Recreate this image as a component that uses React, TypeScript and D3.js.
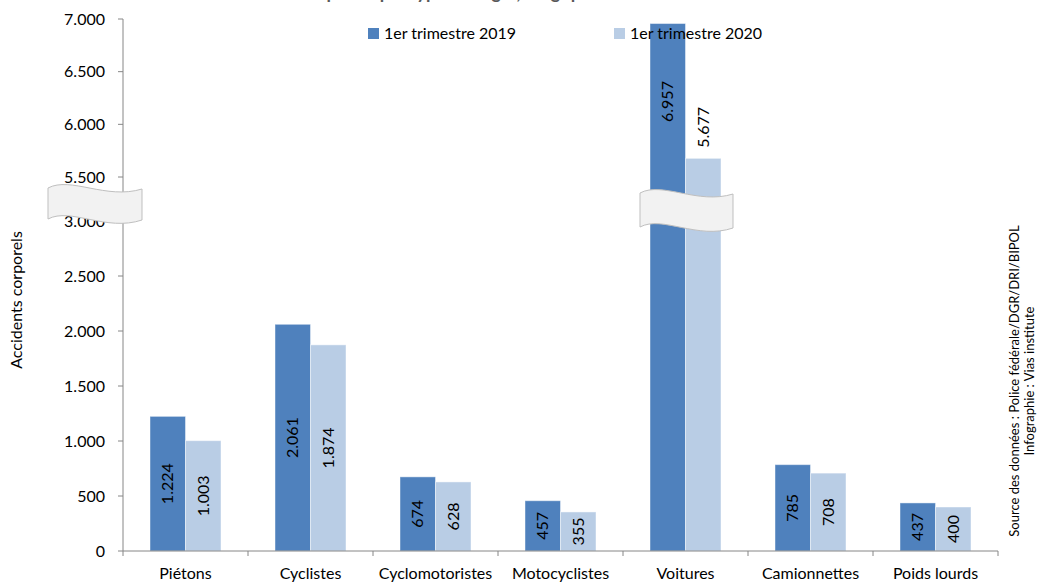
import React from "react";
import * as d3 from "d3";

const categories = ["Piétons", "Cyclistes", "Cyclomotoristes", "Motocyclistes", "Voitures", "Camionnettes", "Poids lourds"];
const series2019 = [1224, 2061, 674, 457, 6957, 785, 437];
const series2020 = [1003, 1874, 628, 355, 5677, 708, 400];
const seriesNames = ["1er trimestre 2019", "1er trimestre 2020"];
const lowerTicks = [0, 500, 1000, 1500, 2000, 2500, 3000];
const upperTicks = [5500, 6000, 6500, 7000];
const axisTitle = "Accidents corporels";
const chartTitle = "Accidents corporels par type d'usager, Belgique";
const sourceLines = ["Source des données : Police fédérale/DGR/DRI/BIPOL", "Infographie : Vias institute"];

const W = 1037;
const H = 583;
const FONT = "Lato, 'Open Sans', sans-serif";
const C2019 = "#4F81BD";
const C2020 = "#B9CDE5";
const AXIS = "#868686";

const left = 123;
const right = 998;
const y0 = 551;

const y = d3.scaleLinear().domain([0, 3000, 5500, 7000]).range([y0, 221, 177, 19]);
const x = d3.scaleBand<string>().domain(categories).range([left, right]).paddingInner(0).paddingOuter(0);
const inner = d3.scaleBand<string>().domain(["2019", "2020"]).range([0, 71]);
const groupOffset = (x.bandwidth() - 71) / 2;

const loc = d3.formatLocale({ decimal: ",", thousands: ".", grouping: [3], currency: ["", "€"] });
const fmt = loc.format(",");

function breakPath(x1: number, x2: number, yTop: number, h: number, amp: number) {
  const w = x2 - x1;
  const c1x = x1 + w * 0.24;
  const c2x = x1 + w * 0.62;
  return `M${x1},${yTop} C${c1x},${yTop - amp} ${c2x},${yTop + amp} ${x2},${yTop + 1}` +
    ` L${x2},${yTop + 1 + h} C${c2x},${yTop + 1 + h + amp} ${c1x},${yTop + h - amp} ${x1},${yTop + h} Z`;
}

export default function App() {
  const bars: JSX.Element[] = [];
  const labels: JSX.Element[] = [];
  categories.forEach((c, i) => {
    [series2019[i], series2020[i]].forEach((v, k) => {
      const key = k === 0 ? "2019" : "2020";
      const bx = (x(c) as number) + groupOffset + (inner(key) as number);
      const bw = inner.bandwidth();
      const top = y(v);
      bars.push(
        <rect key={`b${i}${k}`} x={bx} y={top} width={bw} height={y0 - top}
          fill={k === 0 ? C2019 : C2020} stroke="#ffffff" strokeOpacity={0.45} strokeWidth={1} />
      );
      let cy = (top + y0) / 2;
      if (v > 3000) {
        cy = k === 0 ? top + 78 : top - 31;
      }
      const cx = bx + bw / 2;
      labels.push(
        <text key={`l${i}${k}`} transform={`translate(${cx},${cy}) rotate(-90)`} textAnchor="middle"
          dy="0.35em" fontSize={16} fill="#000">{fmt(v)}</text>
      );
    });
  });

  const vx = (x("Voitures") as number) + groupOffset;

  return (
    <svg width={W} height={H} style={{ position: "absolute", left: 0, top: 0, background: "#fff" }} fontFamily={FONT}>
      <rect width={W} height={H} fill="#fff" />
      <text x={218} y={-1} fontSize={18} fontWeight="bold" fill="#595959">{chartTitle}</text>

      {bars}

      {/* y axis */}
      <line x1={left} x2={left} y1={19} y2={y0} stroke={AXIS} />
      {[...lowerTicks, ...upperTicks].map((t) => (
        <g key={`t${t}`}>
          <line x1={left - 5} x2={left} y1={y(t)} y2={y(t)} stroke={AXIS} />
          <text x={105} y={y(t)} dy="0.36em" textAnchor="end" fontSize={16} fill="#000">{fmt(t)}</text>
        </g>
      ))}

      {/* x axis */}
      <line x1={left} x2={right} y1={y0} y2={y0} stroke={AXIS} />
      {[...categories.map((c) => x(c) as number), right].map((tx, i) => (
        <line key={`xt${i}`} x1={tx} x2={tx} y1={y0} y2={y0 + 5} stroke={AXIS} />
      ))}
      {categories.map((c) => (
        <text key={`c${c}`} x={(x(c) as number) + x.bandwidth() / 2} y={579} textAnchor="middle" fontSize={16} fill="#000">{c}</text>
      ))}

      {labels}

      {/* break shapes */}
      <path d={breakPath(48, 142, 188, 31, 12)} fill="#f2f2f2" stroke="#bfbfbf" strokeWidth={1} />
      <path d={breakPath(vx - 10, vx + 83, 193, 34, 12)} fill="#f2f2f2" stroke="#bfbfbf" strokeWidth={1} />

      {/* legend */}
      <rect x={368} y={28} width={11} height={11} fill={C2019} />
      <text x={384} y={33.5} dy="0.36em" fontSize={16} fill="#000">{seriesNames[0]}</text>
      <rect x={614} y={28} width={11} height={11} fill={C2020} />
      <text x={630} y={33.5} dy="0.36em" fontSize={16} fill="#000">{seriesNames[1]}</text>

      {/* axis title */}
      <text transform={`translate(22,300) rotate(-90)`} textAnchor="middle" fontSize={16} fill="#000">{axisTitle}</text>

      {/* source */}
      {sourceLines.map((s, i) => (
        <text key={`s${i}`} transform={`translate(${1019 + i * 15},381) rotate(-90)`} textAnchor="middle" fontSize={13} fill="#000">{s}</text>
      ))}
    </svg>
  );
}
